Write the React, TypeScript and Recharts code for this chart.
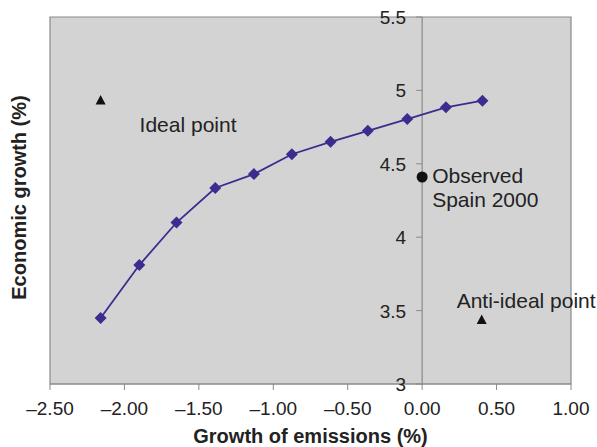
import React from "react";
import {
  ScatterChart,
  Scatter,
  XAxis,
  YAxis,
  ReferenceArea,
  ReferenceLine,
  ReferenceDot,
} from "recharts";

// Pareto frontier: growth of emissions (%) vs economic growth (%)
const emissions = [-2.16, -1.9, -1.65, -1.39, -1.13, -0.875, -0.615, -0.365, -0.1, 0.16, 0.405];
const growth = [3.45, 3.81, 4.1, 4.335, 4.43, 4.565, 4.65, 4.725, 4.805, 4.885, 4.93];

const idealPoint = [{ x: -2.16, y: 4.935 }];
const antiIdealPoint = [{ x: 0.4, y: 3.44 }];
const observedPoint = [{ x: 0, y: 4.41 }];

const xTicks = [-2.5, -2, -1.5, -1, -0.5, 0, 0.5, 1];
const yTicks = [3, 3.5, 4, 4.5, 5, 5.5];

const FONT = "'Liberation Sans', Arial, Helvetica, sans-serif";
const LINE = "#3a2d8f";
const TEXT = "#222";
const BORDER = "#8a8a8a";

const frontier = emissions.map((x, i) => ({ x, y: growth[i] }));

const fmtX = (v: number) => (v < 0 ? `\u2013${Math.abs(v).toFixed(2)}` : v.toFixed(2));

function Diamond(props: any) {
  const { cx, cy } = props;
  const s = 6;
  return (
    <path
      d={`M${cx},${cy - s} L${cx + s},${cy} L${cx},${cy + s} L${cx - s},${cy} Z`}
      fill={LINE}
    />
  );
}

function Triangle({ cx, cy }: { cx: number; cy: number }) {
  return (
    <path
      d={`M${cx},${cy - 5} L${cx + 5},${cy + 4.5} L${cx - 5},${cy + 4.5} Z`}
      fill="#111"
    />
  );
}

function IdealShape(props: any) {
  const { cx, cy } = props;
  return (
    <g>
      <Triangle cx={cx} cy={cy} />
      <text x={cx + 39} y={cy + 32} fontSize={21} fill={TEXT} fontFamily={FONT}>
        Ideal point
      </text>
    </g>
  );
}

function AntiIdealShape(props: any) {
  const { cx, cy } = props;
  return (
    <g>
      <Triangle cx={cx} cy={cy} />
      <text x={cx - 25} y={cy - 11} fontSize={21} fill={TEXT} fontFamily={FONT}>
        Anti-ideal point
      </text>
    </g>
  );
}

function ObservedShape(props: any) {
  const { cx, cy } = props;
  return (
    <g>
      <circle cx={cx} cy={cy} r={5.5} fill="#111" />
      <text x={cx + 10} y={cy + 6} fontSize={21} fill={TEXT} fontFamily={FONT}>
        Observed
      </text>
      <text x={cx + 10} y={cy + 30} fontSize={21} fill={TEXT} fontFamily={FONT}>
        Spain 2000
      </text>
    </g>
  );
}

// y axis sits at x = 0, so its ticks are drawn as dots on that line
function YTick(props: any) {
  const { cx, cy, value } = props;
  return (
    <g>
      <line x1={cx - 6} y1={cy} x2={cx} y2={cy} stroke={BORDER} />
      <text
        x={cx - 16}
        y={cy + 7}
        textAnchor="end"
        fontSize={19}
        fill={TEXT}
        fontFamily={FONT}
      >
        {value}
      </text>
    </g>
  );
}

export default function App() {
  return (
    <div
      style={{
        position: "absolute",
        left: 0,
        top: 0,
        width: 597,
        height: 447,
        background: "#fff",
      }}
    >
      <ScatterChart
        width={597}
        height={447}
        margin={{ top: 17, right: 26, left: 50, bottom: 0 }}
      >
        <XAxis
          type="number"
          dataKey="x"
          domain={[-2.5, 1]}
          ticks={xTicks}
          tickFormatter={fmtX}
          height={63}
          tickSize={6}
          tickMargin={12}
          axisLine={{ stroke: BORDER }}
          tickLine={{ stroke: BORDER }}
          tick={{ fill: TEXT, fontSize: 19, fontFamily: FONT }}
          label={{
            value: "Growth of emissions (%)",
            position: "insideBottom",
            offset: 4,
            style: { fill: TEXT, fontSize: 20, fontWeight: 700, fontFamily: FONT },
          }}
        />
        <YAxis
          type="number"
          dataKey="y"
          domain={[3, 5.5]}
          ticks={yTicks}
          hide
          width={0}
        />

        <ReferenceArea
          x1={-2.5}
          x2={1}
          y1={3}
          y2={5.5}
          fill="#d3d3d3"
          fillOpacity={1}
          stroke={BORDER}
          strokeWidth={1.2}
        />
        <ReferenceLine x={0} stroke={BORDER} strokeWidth={1.2} />
        {yTicks.map((v) => (
          <ReferenceDot
            key={v}
            x={0}
            y={v}
            ifOverflow="visible"
            shape={(p: any) => <YTick {...p} value={v} />}
          />
        ))}

        <Scatter
          data={frontier}
          line={{ stroke: LINE, strokeWidth: 1.8 }}
          lineType="joint"
          shape={<Diamond />}
          isAnimationActive={false}
        />
        <Scatter data={idealPoint} shape={<IdealShape />} isAnimationActive={false} />
        <Scatter data={antiIdealPoint} shape={<AntiIdealShape />} isAnimationActive={false} />
        <Scatter data={observedPoint} shape={<ObservedShape />} isAnimationActive={false} />
      </ScatterChart>

      <svg
        width={597}
        height={447}
        style={{ position: "absolute", left: 0, top: 0, pointerEvents: "none" }}
      >
        <text
          x={26}
          y={197.5}
          transform="rotate(-90 26 197.5)"
          textAnchor="middle"
          fontSize={20}
          fontWeight={700}
          fill={TEXT}
          fontFamily={FONT}
        >
          Economic growth (%)
        </text>
      </svg>
    </div>
  );
}
